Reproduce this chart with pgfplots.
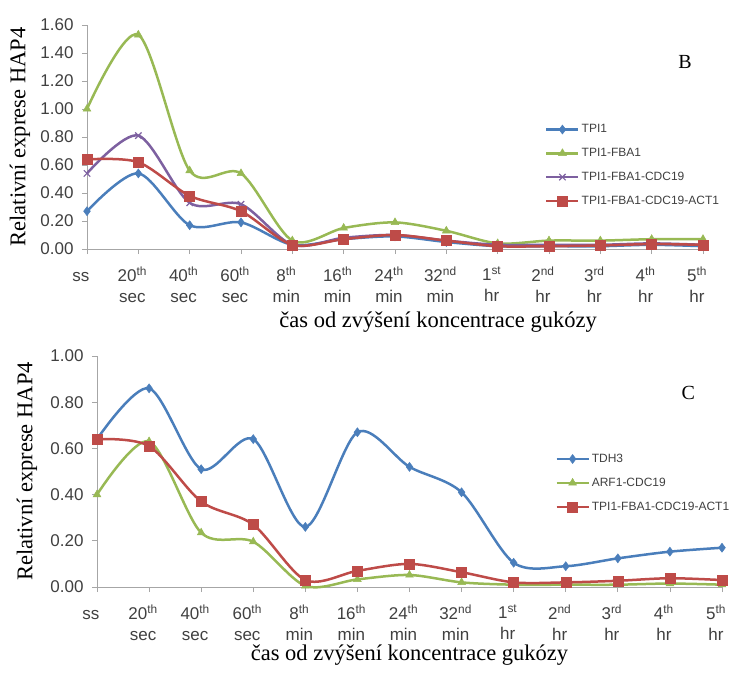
\documentclass[border=0pt]{standalone}
\usepackage{fontspec}
\setmainfont{Liberation Serif}
\setsansfont{Liberation Sans}
\usepackage{pgfplots}
\pgfplotsset{compat=1.18}

\definecolor{cblue}{HTML}{4A7EBB}
\definecolor{cgreen}{HTML}{98B954}
\definecolor{cpurple}{HTML}{7D60A0}
\definecolor{cred}{HTML}{BE4B48}
\definecolor{axgray}{HTML}{A6A6A6}
\definecolor{txtgray}{HTML}{404040}

% shared Excel-like look of both panels
\pgfplotsset{
  excel/.style={
    scale only axis,
    axis x line=bottom, axis y line=left,
    axis line style={axgray, line width=0.8pt, -},
    tick style={axgray, line width=0.8pt},
    tick align=outside, major tick length=5pt,
    xmin=0, xmax=12, xtick={0,...,12},
    xticklabels={{\vphantom{1\textsuperscript{th}}ss\\\vphantom{s}}, {20\textsuperscript{th}\\sec}, {40\textsuperscript{th}\\sec}, {60\textsuperscript{th}\\sec},
      {8\textsuperscript{th}\\min}, {16\textsuperscript{th}\\min}, {24\textsuperscript{th}\\min}, {32\textsuperscript{nd}\\min},
      {1\textsuperscript{st}\\hr}, {2\textsuperscript{nd}\\hr}, {3\textsuperscript{rd}\\hr}, {4\textsuperscript{th}\\hr}, {5\textsuperscript{th}\\hr}},
    xticklabel style={font=\sffamily\fontsize{17}{21}\selectfont, align=center, text=txtgray,
      anchor=north, xshift=-6pt, yshift=-9pt},
    yticklabel style={font=\sffamily\fontsize{17}{17}\selectfont, text=txtgray, xshift=-5pt,
      /pgf/number format/.cd, fixed, fixed zerofill, precision=2, assume math mode=true},
    label style={font=\fontsize{22.5}{23}\selectfont},
    clip=false,
    legend style={draw=none, fill=none, inner sep=0pt, anchor=north west,
      font=\sffamily\fontsize{12}{12}\selectfont, text=txtgray, cells={anchor=west}, row sep=10pt},
    legend image code/.code={\draw[mark repeat=2,mark phase=2] plot coordinates {(0pt,0pt) (16pt,0pt) (32pt,0pt)};},
    every axis plot/.append style={line width=2.5pt, smooth},
  },
  sblue/.style={cblue, mark=diamond*, mark size=4.5pt, mark options={solid, line width=0.5pt, fill=cblue}},
  sgreen/.style={cgreen, mark=triangle*, mark size=4.5pt, mark options={solid, line width=0.5pt, fill=cgreen}},
  spurple/.style={cpurple, mark=x, mark size=4.5pt, mark options={solid, line width=1.2pt}},
  sred/.style={cred, mark=square*, mark size=5pt, mark options={solid, line width=0.5pt, fill=cred}},
}

\pgfplotstableread{
x  tpi  fba  cdc  act
0  0.27 1.00 0.54 0.64
1  0.54 1.53 0.81 0.62
2  0.17 0.56 0.33 0.38
3  0.19 0.54 0.32 0.27
4  0.03 0.06 0.03 0.03
5  0.07 0.15 0.08 0.07
6  0.09 0.19 0.10 0.10
7  0.05 0.13 0.06 0.06
8  0.02 0.04 0.03 0.02
9  0.02 0.06 0.03 0.02
10 0.02 0.06 0.03 0.025
11 0.03 0.07 0.04 0.035
12 0.02 0.07 0.03 0.03
}\tableB

\pgfplotstableread{
x  tdh  arf  act
0  0.64 0.40 0.64
1  0.86 0.63 0.61
2  0.51 0.235 0.37
3  0.64 0.196 0.27
4  0.26 0.005 0.03
5  0.67 0.033 0.07
6  0.52 0.052 0.10
7  0.41 0.02 0.064
8  0.105 0.01 0.02
9  0.09 0.01 0.02
10 0.124 0.01 0.027
11 0.153 0.015 0.038
12 0.17 0.01 0.03
}\tableC

\begin{document}
\begin{tikzpicture}
\useasboundingbox (0,0) rectangle (734pt,673pt);

% panel B
\begin{axis}[excel,
  at={(87pt,424pt)}, anchor=south west,
  width=616pt, height=224pt,
  ymin=0, ymax=1.6, ytick={0,0.2,0.4,0.6,0.8,1.0,1.2,1.4,1.6},
  ylabel={Relativní exprese HAP4},
  ylabel style={at={(axis description cs:-0.109,0.5)}, anchor=center},
  xlabel={čas od zvýšení koncentrace gukózy},
  xlabel style={at={(axis description cs:0.57,-0.325)}, anchor=center},
  legend style={at={(axis description cs:0.7435,0.565)}},
]
\addplot[sblue] table[x=x, y=tpi] {\tableB};
\addplot[sgreen] table[x=x, y=fba] {\tableB};
\addplot[spurple] table[x=x, y=cdc] {\tableB};
\addplot[sred] table[x=x, y=act] {\tableB};
\legend{TPI1, TPI1-FBA1, TPI1-FBA1-CDC19, TPI1-FBA1-CDC19-ACT1}
\node[font=\fontsize{20}{20}\selectfont] at (rel axis cs:0.971,0.835) {B};
\end{axis}

% panel C
\begin{axis}[excel,
  at={(97pt,86pt)}, anchor=south west,
  width=625pt, height=231pt,
  ymin=0, ymax=1.0, ytick={0,0.2,0.4,0.6,0.8,1.0},
  ylabel={Relativní exprese HAP4},
  ylabel style={at={(axis description cs:-0.112,0.5)}, anchor=center},
  xlabel={čas od zvýšení koncentrace gukózy},
  xlabel style={at={(axis description cs:0.50,-0.295)}, anchor=center},
  legend style={at={(axis description cs:0.733,0.585)}},
]
\addplot[sblue] table[x=x, y=tdh] {\tableC};
\addplot[sgreen] table[x=x, y=arf] {\tableC};
\addplot[sred] table[x=x, y=act] {\tableC};
\legend{TDH3, ARF1-CDC19, TPI1-FBA1-CDC19-ACT1}
\node[font=\fontsize{20}{20}\selectfont] at (rel axis cs:0.946,0.84) {C};
\end{axis}
\end{tikzpicture}
\end{document}
